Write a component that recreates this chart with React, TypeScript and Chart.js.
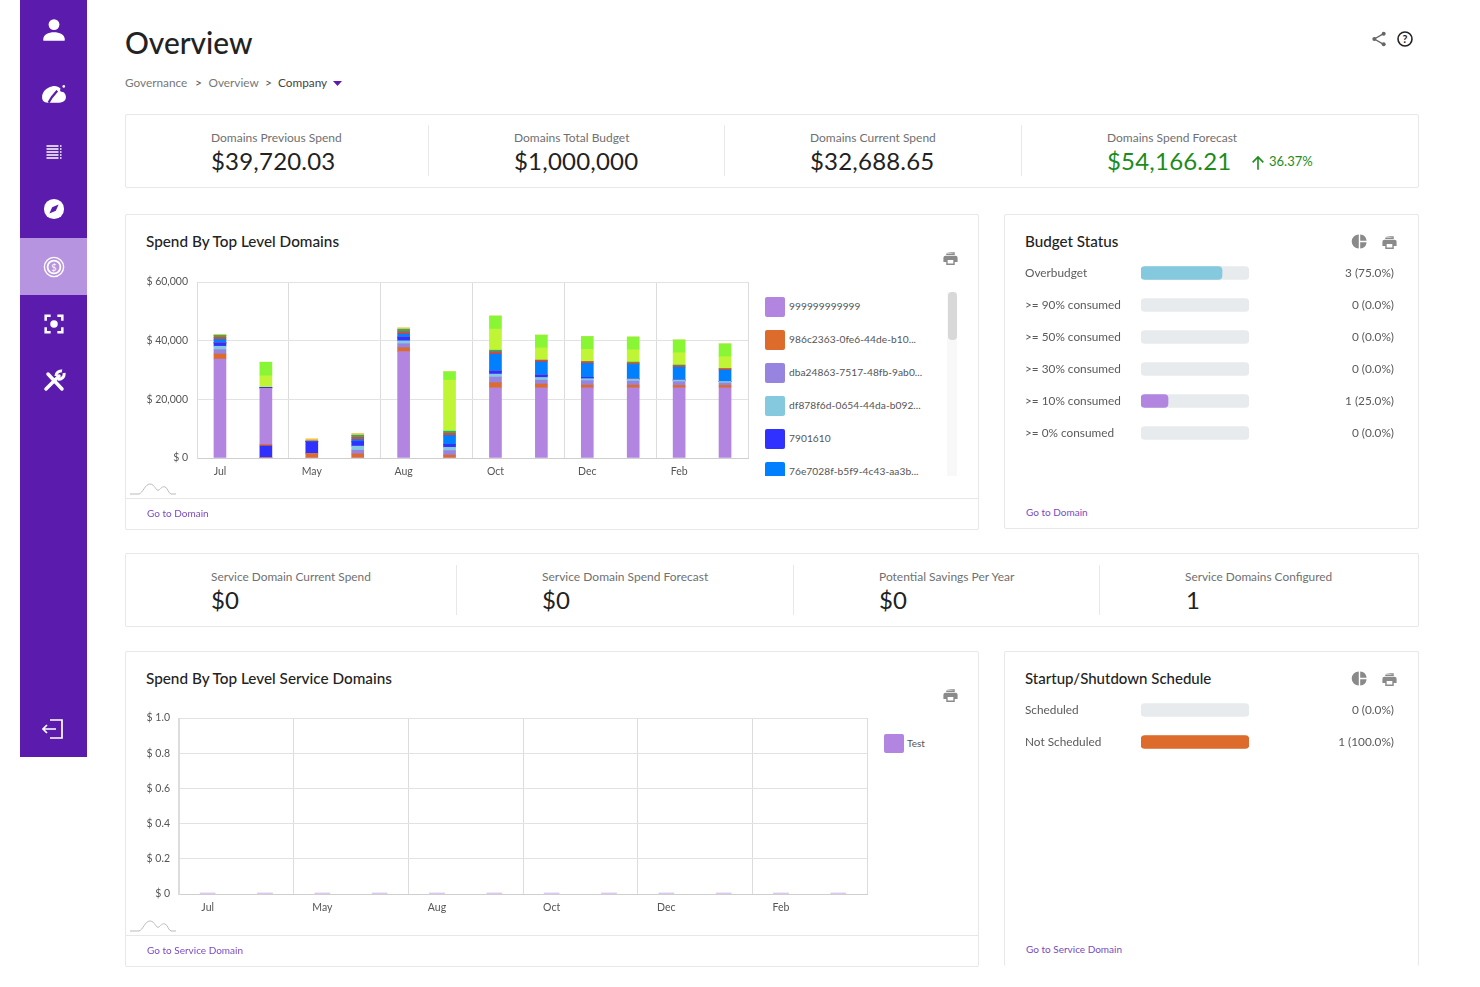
import React, { useEffect, useRef } from "react";
import { Chart, registerables } from "chart.js";
Chart.register(...registerables);

const FONT = "Lato, 'Open Sans', sans-serif";

const spendCategories = ["Jul", "", "May", "", "Aug", "", "Oct", "", "Dec", "", "Feb", ""];
const spendTicks = [0, 20000, 40000, 60000];
const s999 = [33750, 0, 0, 0, 36250, 0, 23950, 23950, 23950, 23950, 23950, 23950];
const s986 = [1700, 200, 1500, 1400, 1350, 1000, 1700, 1250, 900, 900, 800, 800];
const sDba = [1500, 0, 0, 1250, 1350, 1500, 1950, 1350, 1500, 1350, 1250, 800];
const sDf8 = [1150, 0, 0, 1400, 1000, 1150, 1000, 900, 700, 700, 550, 550];
const s790 = [1150, 3900, 4100, 1600, 1250, 1000, 1000, 800, 450, 0, 0, 0];
const sOrangeB = [0, 500, 0, 0, 0, 0, 0, 0, 0, 0, 0, 0];
const sPurpleB = [0, 19150, 0, 0, 0, 0, 0, 0, 0, 0, 0, 0];
const sBlueB = [0, 350, 0, 0, 0, 0, 0, 0, 0, 0, 0, 0];
const s76e = [1250, 0, 150, 700, 1150, 3100, 5900, 4550, 4800, 5000, 4450, 3900];
const sRed = [650, 0, 0, 700, 700, 700, 700, 550, 550, 450, 450, 450];
const sTeal = [650, 0, 0, 700, 800, 700, 550, 0, 0, 350, 250, 0];
const sLime = [0, 3900, 0, 0, 0, 17400, 7200, 4200, 4200, 4200, 4200, 4100];
const sGreen = [0, 4650, 0, 0, 0, 2850, 4450, 4350, 4350, 4350, 4350, 4350];
const sYellow = [350, 0, 800, 600, 550, 0, 0, 0, 0, 0, 0, 0];

const legendNames = [
  "999999999999",
  "986c2363-0fe6-44de-b10...",
  "dba24863-7517-48fb-9ab0...",
  "df878f6d-0654-44da-b092...",
  "7901610",
  "76e7028f-b5f9-4c43-aa3b...",
];
const legendColors = ["#b285e0", "#dd6b2b", "#9784e0", "#85c9de", "#3030ff", "#0080ff"];

const serviceCategories = ["Jul", "", "May", "", "Aug", "", "Oct", "", "Dec", "", "Feb", ""];
const serviceTest = [0, 0, 0, 0, 0, 0, 0, 0, 0, 0, 0, 0];
const serviceTicks = [0, 0.2, 0.4, 0.6, 0.8, 1.0];

const budgetLabels = ["Overbudget", ">= 90% consumed", ">= 50% consumed", ">= 30% consumed", ">= 10% consumed", ">= 0% consumed"];
const budgetCounts = [3, 0, 0, 0, 1, 0];
const budgetColors = ["#85c9de", "#b285e0", "#b285e0", "#b285e0", "#b285e0", "#b285e0"];

const scheduleLabels = ["Scheduled", "Not Scheduled"];
const scheduleCounts = [0, 1];
const scheduleColors = ["#85c9de", "#dd6b2b"];

function useChart(ref: any, build: () => any) {
  useEffect(() => {
    const c = new Chart(ref.current, build());
    return () => c.destroy();
  }, []);
}

function noPad(s: any) {
  s.paddingTop = 0;
  s.paddingBottom = 0;
  s.paddingLeft = 0;
  s.paddingRight = 0;
}

function columnOptions(tickValues: number[], fmt: (v: number) => string, max: number, axisW: number, right: number) {
  return {
    animation: false,
    responsive: false,
    maintainAspectRatio: false,
    layout: { autoPadding: false, padding: { top: 10, right, bottom: 0, left: 0 } },
    plugins: { legend: { display: false }, tooltip: { enabled: false } },
    scales: {
      x: {
        stacked: true,
        afterFit: (s: any) => { s.height = 30; noPad(s); },
        grid: {
          tickLength: 0,
          color: (ctx: any) => (ctx.index === undefined || ctx.index % 2 === 0 ? "#dcdcdc" : "rgba(0,0,0,0)"),
        },
        border: { color: "#cfcfcf" },
        ticks: { autoSkip: false, maxRotation: 0, padding: 7, color: "#555", font: { family: FONT, size: 10.5 } },
      },
      y: {
        stacked: true,
        min: 0,
        max,
        afterFit: (s: any) => { s.width = axisW; noPad(s); },
        afterBuildTicks: (s: any) => { s.ticks = tickValues.map((value) => ({ value })); },
        grid: { tickLength: 0, color: "#e2e2e2" },
        border: { color: "#dcdcdc" },
        ticks: { padding: 9, color: "#555", font: { family: FONT, size: 10.5 }, callback: (v: any) => fmt(Number(v)) },
      },
    },
  };
}

function SpendChart() {
  const ref = useRef<HTMLCanvasElement>(null);
  useChart(ref, () => {
    const series: [string, number[], string][] = [
      [legendNames[0], s999, "#b285e0"],
      [legendNames[1], s986, "#dd6b2b"],
      [legendNames[2], sDba, "#9784e0"],
      [legendNames[3], sDf8, "#85c9de"],
      [legendNames[4], s790, "#3030ff"],
      ["orange-2", sOrangeB, "#dd6b2b"],
      ["purple-2", sPurpleB, "#b285e0"],
      ["blue-2", sBlueB, "#3030ff"],
      [legendNames[5], s76e, "#0080ff"],
      ["red", sRed, "#f5401a"],
      ["teal", sTeal, "#22b07a"],
      ["lime", sLime, "#c0f535"],
      ["green", sGreen, "#88f535"],
      ["yellow", sYellow, "#f5c040"],
    ];
    return {
      type: "bar",
      data: {
        labels: spendCategories,
        datasets: series.map(([label, data, backgroundColor]) => ({ label, data, backgroundColor, barThickness: 12 })),
      },
      options: columnOptions(spendTicks, (v) => `$ ${v.toLocaleString("en-US")}`, 60000, 67, 4),
    };
  });
  return <canvas ref={ref} width={622} height={216} style={{ position: "absolute", left: 130, top: 272, width: 622, height: 216 }} />;
}

function ServiceChart() {
  const ref = useRef<HTMLCanvasElement>(null);
  useChart(ref, () => ({
    type: "bar",
    data: {
      labels: serviceCategories,
      datasets: [{ label: "Test", data: serviceTest, backgroundColor: "rgba(178,133,224,0.55)", barThickness: 15, minBarLength: 1 }],
    },
    options: columnOptions(serviceTicks, (v) => (v === 0 ? "$ 0" : `$ ${v.toFixed(1)}`), 1, 49, 3),
  }));
  return <canvas ref={ref} width={740} height={216} style={{ position: "absolute", left: 130, top: 708, width: 740, height: 216 }} />;
}

function RowChart({ labels, counts, colors, top }: { labels: string[]; counts: number[]; colors: string[]; top: number }) {
  const ref = useRef<HTMLCanvasElement>(null);
  const total = counts.reduce((a, b) => a + b, 0);
  const pct = counts.map((c) => (c / total) * 100);
  const shown = pct.map((p) => (p > 0 ? p : null));
  const track = counts.map(() => 100);
  const right = counts.map((c, i) => `${c} (${pct[i].toFixed(1)}%)`);
  const h = labels.length * 32;
  const font = { family: FONT, size: 11.8 };
  useChart(ref, () => ({
    type: "bar",
    data: {
      labels,
      datasets: [
        { data: shown, backgroundColor: colors, barThickness: 13, borderRadius: 4, borderSkipped: false, grouped: false },
        { data: track, backgroundColor: "#e8ebee", barThickness: 13, borderRadius: 4, borderSkipped: false, grouped: false },
      ],
    },
    options: {
      animation: false,
      responsive: false,
      maintainAspectRatio: false,
      indexAxis: "y",
      layout: { autoPadding: false, padding: 0 },
      plugins: { legend: { display: false }, tooltip: { enabled: false } },
      scales: {
        x: { min: 0, max: 100, display: false },
        y: {
          position: "left",
          afterFit: (s: any) => { s.width = 116; noPad(s); },
          grid: { display: false },
          border: { display: false },
          ticks: { autoSkip: false, crossAlign: "far", color: "#5a5a5a", font },
        },
        yR: {
          type: "category",
          position: "right",
          labels: right,
          offset: true,
          afterFit: (s: any) => { s.width = 145; noPad(s); },
          grid: { display: false },
          border: { display: false },
          ticks: { autoSkip: false, crossAlign: "far", color: "#5a5a5a", font },
        },
      },
    },
  }));
  return <canvas ref={ref} width={369} height={h} style={{ position: "absolute", left: 1025, top, width: 369, height: h }} />;
}

function T({ x, y, size = 11.5, color = "#666", weight = 400, ls = 0, children }: any) {
  return (
    <div style={{ position: "absolute", left: x, top: y, transform: "translateY(-50%)", fontSize: size, color, fontWeight: weight, letterSpacing: ls, whiteSpace: "nowrap", lineHeight: 1.2 }}>
      {children}
    </div>
  );
}

function Box({ x, y, w, h, noBottom }: any) {
  return (
    <div style={{ position: "absolute", left: x, top: y, width: w, height: h, boxSizing: "border-box", border: "1px solid #e8e8e8", borderBottom: noBottom ? "none" : "1px solid #e8e8e8", borderRadius: 2 }} />
  );
}

const Line = ({ x, y, w, h, c = "#e8e8e8" }: any) => <div style={{ position: "absolute", left: x, top: y, width: w, height: h, background: c }} />;

function Icon({ x, y, w = 20, h = 20, vb = "0 0 24 24", children }: any) {
  return (
    <svg style={{ position: "absolute", left: x - w / 2, top: y - h / 2 }} width={w} height={h} viewBox={vb}>
      {children}
    </svg>
  );
}

const printPath = "M19 8H5a3 3 0 0 0-3 3v6h4v4h12v-4h4v-6a3 3 0 0 0-3-3zm-3 11H8v-5h8v5zm2-14H6v2h12V3H6z";
const PrintIcon = ({ x, y }: any) => (
  <Icon x={x} y={y} w={17} h={17}><path fill="#8a8a8a" d={printPath} /></Icon>
);
const PieIcon = ({ x, y }: any) => (
  <Icon x={x} y={y} w={17} h={17}>
    <path fill="#8a8a8a" d="M11 2v20a10 10 0 0 1 0-20zm2 0a10 10 0 0 1 9 9h-9V2zm0 11h9a10 10 0 0 1-9 9v-9z" />
  </Icon>
);
const Peak = ({ x, y }: any) => (
  <svg style={{ position: "absolute", left: x, top: y }} width={46} height={13} viewBox="0 0 46 13">
    <path fill="none" stroke="#bbb" strokeWidth="1" d="M0 12H9C13 11 15 2 20 2C25 2 26 10 29 8C31 6 33 4 35 5C38 6 38 11 41 12H46" />
  </svg>
);

const Stat = ({ x, label, value, y, dy = 23.5, size = 12, color = "#222" }: any) => (
  <>
    <T x={x} y={y} size={size} color="#707070">{label}</T>
    <T x={x} y={y + dy} size={24} color={color} ls={0.2}>{value}</T>
  </>
);

function Legend() {
  return (
    <div style={{ position: "absolute", left: 765, top: 292, width: 180, height: 184, overflow: "hidden" }}>
      {legendNames.map((n, i) => (
        <div key={n} style={{ position: "absolute", left: 0, top: 5 + i * 33, height: 20 }}>
          <div style={{ position: "absolute", left: 0, top: 0, width: 20, height: 20, borderRadius: 2, background: legendColors[i] }} />
          <div style={{ position: "absolute", left: 24, top: 3, fontSize: 10.2, color: "#555", whiteSpace: "nowrap", letterSpacing: 0.05 }}>{n}</div>
        </div>
      ))}
    </div>
  );
}

export default function App() {
  return (
    <div style={{ position: "fixed", left: 0, top: 0, width: 1480, height: 987, background: "#fff", fontFamily: FONT, overflow: "hidden" }}>
      <Line x={20} y={0} w={67} h={757} c="#5b1cae" />
      <Line x={20} y={238} w={67} h={57} c="#b794e0" />
      <Icon x={54} y={30} w={26} h={26}>
        <circle cx="12" cy="7" r="5" fill="#fff" /><path fill="#fff" d="M2 21c0-5 5-7 10-7s10 2 10 7c0 1-1 1-1 1H3s-1 0-1-1z" />
      </Icon>
      <Icon x={54} y={94} w={28} h={26}>
        <path fill="#fff" d="M1 15c0-5 4-9 9-10 3-1 6 0 8 2-1 2 0 3 1 3 3 0 4 3 4 5 0 3-3 5-6 5H6c-3 0-5-2-5-5z" />
        <circle cx="21" cy="5" r="1.2" fill="#fff" />
        <path stroke="#5b1cae" strokeWidth="2" d="M15 9l-5 6-3 5" fill="none" />
      </Icon>
      <Icon x={54} y={152} w={18} h={18}>
        <path stroke="#fff" strokeWidth="2" d="M2 4h16M2 8h16M2 12h16M2 16h16M2 20h16" /><path stroke="#fff" strokeWidth="2" strokeDasharray="2 2" d="M21 3v18" />
      </Icon>
      <Icon x={54} y={209} w={22} h={22}>
        <circle cx="12" cy="12" r="11" fill="#fff" /><path fill="#5b1cae" d="M17 7l-3 7-7 3 3-7z" />
      </Icon>
      <Icon x={54} y={267} w={22} h={22}>
        <circle cx="12" cy="12" r="10.5" fill="none" stroke="#fff" strokeWidth="1.5" /><circle cx="12" cy="12" r="7" fill="none" stroke="#fff" strokeWidth="2" />
        <text x="12" y="16" textAnchor="middle" fontSize="10" fill="#fff" fontFamily={FONT}>$</text>
      </Icon>
      <Icon x={54} y={324} w={20} h={20}>
        <path fill="none" stroke="#fff" strokeWidth="3" d="M2 8V2h6M16 2h6v6M22 16v6h-6M8 22H2v-6" /><circle cx="12" cy="12" r="4.5" fill="#fff" />
      </Icon>
      <Icon x={54} y={381} w={24} h={24}>
        <path stroke="#fff" strokeWidth="3.5" strokeLinecap="round" d="M4 20L17 7M6 5l14 15" /><path fill="none" stroke="#fff" strokeWidth="3" d="M22 4a5 5 0 0 1-6 6M14 7a5 5 0 0 1 6-5" />
      </Icon>
      <Icon x={53} y={729} w={24} h={24}>
        <path fill="none" stroke="#fff" strokeWidth="1.7" d="M9 3h12v18H9M15 12H2M6 8l-4 4 4 4" />
      </Icon>

      <T x={125} y={42.5} size={29.8} color="#222" weight={500}>Overview</T>
      <T x={125} y={83} size={11.8} color="#777">Governance</T>
      <T x={195} y={83} size={12} color="#555">&gt;</T>
      <T x={208.5} y={83} size={11.8} color="#777">Overview</T>
      <T x={265} y={83} size={12} color="#555">&gt;</T>
      <T x={278} y={83} size={11.8} color="#444">Company</T>
      <svg style={{ position: "absolute", left: 333, top: 81 }} width={9} height={5}><path d="M0 0h9L4.5 5z" fill="#5b1cae" /></svg>
      <Icon x={1379} y={39} w={16} h={16}>
        <path fill="none" stroke="#666" strokeWidth="2" d="M19 4L5 12l14 8" /><circle cx="19" cy="4" r="3" fill="#666" /><circle cx="5" cy="12" r="3" fill="#666" /><circle cx="19" cy="20" r="3" fill="#666" />
      </Icon>
      <Icon x={1405} y={39} w={16} h={16}>
        <circle cx="12" cy="12" r="10.5" fill="none" stroke="#222" strokeWidth="2.4" /><text x="12" y="17.5" textAnchor="middle" fontSize="16" fontWeight="700" fill="#222" fontFamily={FONT}>?</text>
      </Icon>

      <Box x={125} y={114} w={1294} h={74} />
      <Line x={428} y={125} w={1} h={51} />
      <Line x={724} y={125} w={1} h={51} />
      <Line x={1021} y={125} w={1} h={51} />
      <Stat x={211} y={137.5} label="Domains Previous Spend" value="$39,720.03" />
      <Stat x={514} y={137.5} label="Domains Total Budget" value="$1,000,000" />
      <Stat x={810} y={137.5} label="Domains Current Spend" value="$32,688.65" />
      <Stat x={1107} y={137.5} label="Domains Spend Forecast" value="$54,166.21" color="#1c8c1c" />
      <Icon x={1258} y={163} w={16} h={16}><path fill="none" stroke="#1c8c1c" strokeWidth="2.4" d="M12 22V3M4 11l8-8 8 8" /></Icon>
      <T x={1269} y={162} size={13} color="#1c8c1c">36.37%</T>

      <Box x={125} y={214} w={854} h={316} />
      <Line x={126} y={498} w={852} h={1} />
      <T x={146} y={241} size={15.3} color="#222" weight={500}>Spend By Top Level Domains</T>
      <PrintIcon x={950} y={258} />
      <SpendChart />
      <Peak x={130} y={482} />
      <Legend />
      <Line x={947} y={292} w={10} h={184} c="#f8f8f8" />
      <div style={{ position: "absolute", left: 948, top: 292, width: 9, height: 48, background: "#d8d8d8", borderRadius: 4 }} />
      <T x={147} y={513} size={10} color="#7a4ac0">Go to Domain</T>

      <Box x={1004} y={214} w={415} h={315} />
      <T x={1025} y={241} size={15.2} color="#222" weight={500}>Budget Status</T>
      <PieIcon x={1359} y={241} />
      <PrintIcon x={1389.5} y={242} />
      <RowChart labels={budgetLabels} counts={budgetCounts} colors={budgetColors} top={257} />
      <T x={1026} y={512} size={10} color="#7a4ac0">Go to Domain</T>

      <Box x={125} y={553} w={1294} h={74} />
      <Line x={456} y={565} w={1} h={50} />
      <Line x={793} y={565} w={1} h={50} />
      <Line x={1099} y={565} w={1} h={50} />
      <Stat x={211} y={577} dy={23} size={11.85} label="Service Domain Current Spend" value="$0" />
      <Stat x={542} y={577} dy={23} label="Service Domain Spend Forecast" value="$0" />
      <Stat x={879} y={577} dy={23} label="Potential Savings Per Year" value="$0" />
      <T x={1185} y={577} size={11.85} color="#707070">Service Domains Configured</T>
      <T x={1186} y={600} size={24} color="#222">1</T>

      <Box x={125} y={651} w={854} h={316} />
      <Line x={126} y={935} w={852} h={1} />
      <T x={146} y={678} size={15.3} color="#222" weight={500}>Spend By Top Level Service Domains</T>
      <PrintIcon x={950} y={695} />
      <ServiceChart />
      <Peak x={130} y={919} />
      <div style={{ position: "absolute", left: 884, top: 734, width: 20, height: 19, borderRadius: 2, background: "#b285e0" }} />
      <T x={907} y={743} size={10} color="#555">Test</T>
      <T x={147} y={950} size={10} color="#7a4ac0">Go to Service Domain</T>

      <Box x={1004} y={651} w={415} h={315} noBottom />
      <T x={1025} y={678} size={15} color="#222" weight={500}>Startup/Shutdown Schedule</T>
      <PieIcon x={1359} y={678} />
      <PrintIcon x={1389.5} y={679} />
      <RowChart labels={scheduleLabels} counts={scheduleCounts} colors={scheduleColors} top={694} />
      <T x={1026} y={949} size={10} color="#7a4ac0">Go to Service Domain</T>
    </div>
  );
}
